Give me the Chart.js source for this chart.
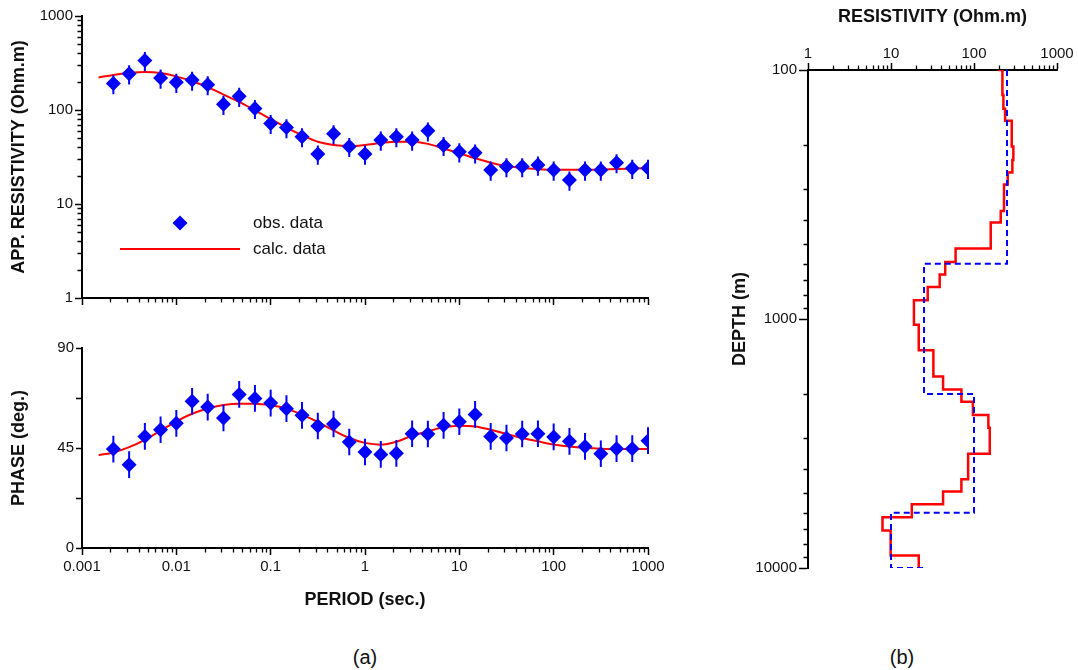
<!DOCTYPE html>
<html>
<head>
<meta charset="utf-8">
<script src="https://cdn.jsdelivr.net/npm/chart.js@4.4.1/dist/chart.umd.min.js"></script>
<style>
  html, body { margin: 0; padding: 0; background: #fff; }
  body { width: 1078px; height: 670px; position: relative; overflow: hidden;
         font-family: "Liberation Sans", Arial, sans-serif; }
  canvas { position: absolute; }
  .tag { position: absolute; font-size: 20px; line-height: 20px; color: #111;
         transform: translateX(-50%); }
</style>
</head>
<body>
<canvas id="rhoChart" width="680" height="320" style="left:0;top:0"></canvas>
<canvas id="phaseChart" width="680" height="300" style="left:0;top:320px"></canvas>
<canvas id="modelChart" width="378" height="640" style="left:700px;top:0"></canvas>
<div class="tag" style="left:365px;top:647px">(a)</div>
<div class="tag" style="left:902px;top:647px">(b)</div>

<script>
// 🔹 sounding periods (sec.)
const periods = [0.00215, 0.00316, 0.00464, 0.00681, 0.01, 0.0147, 0.0215, 0.0316, 0.0464, 0.0681,
    0.1, 0.147, 0.215, 0.316, 0.464, 0.681, 1, 1.47, 2.15, 3.16, 4.64, 6.81,
    10, 14.7, 21.5, 31.6, 46.4, 68.1, 100, 147, 215, 316, 464, 681, 1000];

// 🔹 observed data
const obsRho = [191, 243, 336, 219, 197, 208, 186, 115, 140, 104, 72, 65, 52, 34, 56, 41, 34, 48,
    52, 48, 60, 42, 36, 35, 23, 25, 25, 26, 23, 18, 23, 23, 27.5, 24, 24];
const obsPhase = [44.5, 37.5, 50.2, 53.2, 56.1, 66.0, 63.4, 58.5, 69.1, 67.3, 65.2, 62.7, 59.7, 54.9,
    55.8, 47.7, 43.2, 42.1, 42.6, 51.4, 51.3, 55.2, 56.8, 60.1, 50.2, 49.5, 51.3, 51.4, 50.0, 48.0,
    45.7, 42.4, 44.7, 44.7, 48.3];
const rhoErr = 0.23;     // relative error
const phaseErr = 6;      // degrees

// 🔹 calculated response of the model
const calcPeriods = [0.0015, ...periods];
const calcRho = [222, 236, 247, 253, 247, 228, 202, 175, 146, 122, 99, 80, 65, 54, 46, 42.5, 41.4, 42.5,
    44.5, 46, 46, 43.6, 39, 34.7, 30.7, 27.5, 25.3, 24.1, 23.5, 23.2, 23.2, 23.2, 23.3, 23.6, 23.8, 24];
const calcPhase = [41.8, 43.0, 45.4, 48.7, 52.8, 57.0, 60.4, 62.8, 64.3, 64.9, 64.9, 64.2, 62.7, 60.0,
    56.7, 52.9, 49.5, 47.3, 46.5, 47.8, 50.5, 52.5, 54.3, 55.0, 54.7, 53.2, 51.3, 49.5, 48.0, 46.6,
    45.7, 45.1, 44.7, 44.5, 44.5, 44.5];

// 🔹 layered models: layer top depths (m) + resistivity of each layer (Ohm.m)
const invDepth = [100, 100, 126, 143, 160, 203, 230, 258, 288, 368, 410, 521, 590, 663, 743, 841,
    1054, 1336, 1700, 1918, 2149, 2432, 2733, 3477, 4397, 4932, 5544, 6255, 7076, 8915, 10000];
const invRho = [195, 220, 226, 237, 285, 298, 290, 255, 230, 210, 159, 60, 45, 38.6, 27.7, 18.9,
    21.6, 32.4, 42.4, 70.5, 97, 149, 155, 85, 70.5, 42.4, 17.8, 7.9, 9.9, 21.6];
const trueDepth = [100, 600, 2000, 6000, 10000, 10000];
const trueRho = [250, 25, 100, 10, 25];

// 🔹 tick labels
const periodTicks = [0.001, 0.01, 0.1, 1, 10, 100, 1000];
const rhoTicks = [1, 10, 100, 1000];
const phaseTicks = [0, 22.5, 45, 67.5, 90];
const phaseTickLabels = ["0", "", "45", "", "90"];
const resTicks = [1, 10, 100, 1000];
const depthTicks = [100, 1000, 10000];

const BLUE = "#0000ff";
const RED = "#ff0000";
const INK = "#111";

Chart.defaults.font.family = '"Liberation Sans", Arial, sans-serif';
Chart.defaults.color = INK;

// 🔥 minor ticks (2..9) for every log axis
const minorTicks = {
    id: "minorTicks",
    afterDraw(chart) {
        const ctx = chart.ctx;
        ctx.save();
        ctx.strokeStyle = "#000";
        ctx.lineWidth = 1.3;
        ctx.beginPath();
        Object.values(chart.scales).forEach(scale => {
            if (scale.type !== "logarithmic") return;
            const len = 4.5;
            const e0 = Math.round(Math.log10(scale.min));
            const e1 = Math.round(Math.log10(scale.max));
            for (let e = e0; e < e1; e++) {
                for (let m = 2; m <= 9; m++) {
                    const p = Math.round(scale.getPixelForValue(m * Math.pow(10, e))) + 0.5;
                    if (scale.position === "left") {
                        ctx.moveTo(scale.right, p); ctx.lineTo(scale.right - len, p);
                    } else if (scale.position === "bottom") {
                        ctx.moveTo(p, scale.top); ctx.lineTo(p, scale.top + len);
                    } else if (scale.position === "top") {
                        ctx.moveTo(p, scale.bottom); ctx.lineTo(p, scale.bottom - len);
                    }
                }
            }
        });
        ctx.stroke();
        ctx.restore();
    }
};

// 🔥 error bars, drawn between the calc curve and the diamonds
const errorBars = {
    id: "errorBars",
    beforeDatasetDraw(chart, args, opts) {
        if (args.index !== 0 || !opts.lo) return;
        const { ctx, scales: { x, y } } = chart;
        ctx.save();
        ctx.strokeStyle = BLUE;
        ctx.lineWidth = 2;
        ctx.beginPath();
        periods.forEach((p, i) => {
            const px = x.getPixelForValue(p);
            ctx.moveTo(px, y.getPixelForValue(opts.lo[i]));
            ctx.lineTo(px, y.getPixelForValue(opts.hi[i]));
        });
        ctx.stroke();
        ctx.restore();
    }
};

// 🔥 legend inside the resistivity panel
const fitLegend = {
    id: "fitLegend",
    afterDraw(chart, args, opts) {
        if (!opts.show) return;
        const ctx = chart.ctx;
        ctx.save();
        ctx.fillStyle = BLUE;
        ctx.beginPath();
        ctx.moveTo(180, 215.5); ctx.lineTo(187.5, 223); ctx.lineTo(180, 230.5); ctx.lineTo(172.5, 223);
        ctx.closePath();
        ctx.fill();
        ctx.strokeStyle = RED;
        ctx.lineWidth = 2;
        ctx.beginPath();
        ctx.moveTo(120, 249); ctx.lineTo(240, 249);
        ctx.stroke();
        ctx.fillStyle = INK;
        ctx.font = '17px "Liberation Sans", Arial, sans-serif';
        ctx.textBaseline = "middle";
        ctx.fillText("obs. data", 253, 223);
        ctx.fillText("calc. data", 253, 249);
        ctx.restore();
    }
};

const tickGrid = len => ({
    display: true, drawOnChartArea: false, drawTicks: true,
    tickLength: len, tickWidth: 1.5, tickColor: "#000"
});
const axisBorder = { display: true, color: "#000", width: 2 };
const setTicks = list => scale => { scale.ticks = list.map(v => ({ value: v })); };
const titleFont = { size: 18, weight: "bold" };

function periodAxis(showLabels, height) {
    return {
        type: "logarithmic",
        position: "bottom",
        min: 0.001, max: 1000,
        afterBuildTicks: setTicks(periodTicks),
        afterFit: s => { s.height = height; },
        grid: tickGrid(7),
        border: axisBorder,
        ticks: { display: showLabels, font: { size: 15 }, padding: 3, maxRotation: 0,
                 callback: v => String(v) },
        title: { display: showLabels, text: "PERIOD (sec.)", font: titleFont,
                 padding: { top: 0, bottom: 9 } }
    };
}

function obsSet(values) {
    return {
        label: "obs. data",
        data: periods.map((p, i) => ({ x: p, y: values[i] })),
        pointStyle: "rectRot", pointRadius: 7.5, pointHoverRadius: 7.5,
        backgroundColor: BLUE, borderColor: BLUE, borderWidth: 0,
        showLine: false
    };
}

function calcSet(values) {
    return {
        label: "calc. data",
        data: calcPeriods.map((p, i) => ({ x: p, y: values[i] })),
        showLine: true, borderColor: RED, borderWidth: 2, pointRadius: 0,
        cubicInterpolationMode: "monotone"
    };
}

const common = {
    responsive: false,
    animation: false,
    events: [],
};

// 🔹 (a) apparent resistivity
new Chart(document.getElementById("rhoChart"), {
    type: "scatter",
    data: { datasets: [obsSet(obsRho), calcSet(calcRho)] },
    options: {
        ...common,
        layout: { padding: { left: 0, top: 16, right: 32, bottom: 0 } },
        plugins: {
            legend: { display: false }, tooltip: { enabled: false },
            errorBars: {
                lo: obsRho.map(v => v * (1 - rhoErr)),
                hi: obsRho.map(v => v * (1 + rhoErr))
            },
            fitLegend: { show: true }
        },
        scales: {
            x: periodAxis(false, 22),
            y: {
                type: "logarithmic", min: 1, max: 1000,
                afterBuildTicks: setTicks(rhoTicks),
                afterFit: s => { s.width = 82; },
                grid: tickGrid(7),
                border: axisBorder,
                ticks: { font: { size: 15 }, padding: 2, callback: v => String(v) },
                title: { display: true, text: "APP. RESISTIVITY (Ohm.m)", font: titleFont,
                         padding: { top: 8, bottom: 0 } }
            }
        }
    },
    plugins: [minorTicks, errorBars, fitLegend]
});

// 🔹 (a) phase
new Chart(document.getElementById("phaseChart"), {
    type: "scatter",
    data: { datasets: [obsSet(obsPhase), calcSet(calcPhase)] },
    options: {
        ...common,
        layout: { padding: { left: 0, top: 28, right: 32, bottom: 0 } },
        plugins: {
            legend: { display: false }, tooltip: { enabled: false },
            errorBars: {
                lo: obsPhase.map(v => v - phaseErr),
                hi: obsPhase.map(v => v + phaseErr)
            },
            fitLegend: { show: false }
        },
        scales: {
            x: periodAxis(true, 72),
            y: {
                type: "linear", min: 0, max: 90,
                afterBuildTicks: setTicks(phaseTicks),
                afterFit: s => { s.width = 82; },
                grid: tickGrid(6),
                border: axisBorder,
                ticks: { font: { size: 15 }, padding: 2,
                         callback: (v, i) => phaseTickLabels[i] },
                title: { display: true, text: "PHASE (deg.)", font: titleFont,
                         padding: { top: 8, bottom: 0 } }
            }
        }
    },
    plugins: [minorTicks, errorBars, fitLegend]
});

// 🔹 (b) layered model
function stepPoints(tops, rhos) {
    const pts = [];
    rhos.forEach((r, i) => {
        pts.push({ x: r, y: tops[i] }, { x: r, y: tops[i + 1] });
    });
    return pts;
}

new Chart(document.getElementById("modelChart"), {
    type: "scatter",
    data: {
        datasets: [
            {
                label: "true model",
                data: stepPoints(trueDepth, trueRho),
                showLine: true, borderColor: BLUE, borderWidth: 2, borderDash: [6, 4],
                pointRadius: 0, tension: 0
            },
            {
                label: "inverted model",
                data: stepPoints(invDepth, invRho),
                showLine: true, borderColor: RED, borderWidth: 2.5,
                pointRadius: 0, tension: 0
            }
        ]
    },
    options: {
        ...common,
        layout: { padding: { left: 0, top: 0, right: 21, bottom: 72 } },
        plugins: { legend: { display: false }, tooltip: { enabled: false } },
        scales: {
            x: {
                type: "logarithmic", position: "top", min: 1, max: 1000,
                afterBuildTicks: setTicks(resTicks),
                afterFit: s => { s.height = 70; },
                grid: tickGrid(7),
                border: axisBorder,
                ticks: { font: { size: 15 }, padding: 0, maxRotation: 0, callback: v => String(v) },
                title: { display: true, text: "RESISTIVITY (Ohm.m)", font: titleFont,
                         padding: { top: 6, bottom: 0 } }
            },
            y: {
                type: "logarithmic", reverse: true, min: 100, max: 10000,
                afterBuildTicks: setTicks(depthTicks),
                afterFit: s => { s.width = 108; },
                grid: tickGrid(9),
                border: axisBorder,
                ticks: { font: { size: 15 }, padding: 2, callback: v => String(v) },
                title: { display: true, text: "DEPTH (m)", font: titleFont,
                         padding: { top: 29, bottom: 0 } }
            }
        }
    },
    plugins: [minorTicks]
});
</script>
</body>
</html>
